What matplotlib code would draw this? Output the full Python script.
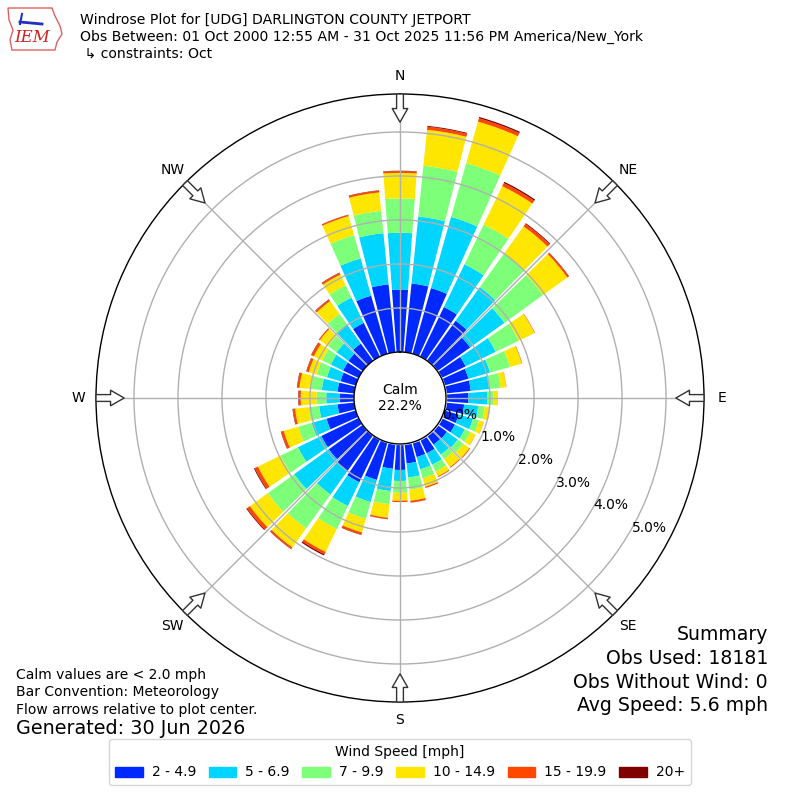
import numpy as np
import matplotlib
matplotlib.use('Agg')
import matplotlib.pyplot as plt
from matplotlib.patches import Patch, Polygon
from matplotlib.transforms import offset_copy

# Wind direction bins (deg, meteorological) ------------------------------------------------
directions = np.arange(0, 360, 10)

# Percent of obs per speed bin
spd_2_5 = [1.42, 1.57, 1.55, 1.25, 1.12, 0.92, 0.61, 0.57, 0.57, 0.51, 0.42, 0.34,
           0.34, 0.27, 0.26, 0.35, 0.35, 0.45, 0.59, 0.57, 0.89, 1.08, 1.00, 0.95,
           0.94, 0.69, 0.38, 0.32, 0.38, 0.36, 0.39, 0.40, 0.48, 0.85, 1.37, 1.55]
spd_5_7 = [1.29, 1.53, 1.68, 1.08, 0.94, 0.96, 0.76, 0.51, 0.42, 0.43, 0.32, 0.34,
           0.25, 0.30, 0.28, 0.29, 0.29, 0.32, 0.25, 0.51, 0.52, 0.60, 0.66, 0.97,
           0.59, 0.35, 0.42, 0.31, 0.36, 0.32, 0.31, 0.33, 0.54, 0.64, 0.88, 1.17]
spd_7_10 = [0.78, 1.16, 1.27, 1.00, 0.94, 1.08, 0.58, 0.47, 0.26, 0.14, 0.15, 0.14,
            0.14, 0.16, 0.13, 0.17, 0.21, 0.28, 0.27, 0.30, 0.40, 0.58, 0.95, 0.74,
            0.44, 0.32, 0.24, 0.22, 0.25, 0.24, 0.22, 0.24, 0.29, 0.31, 0.55, 0.51]
spd_10_15 = [0.58, 0.82, 0.98, 0.97, 0.76, 0.68, 0.40, 0.28, 0.13, 0.09, 0.12, 0.11,
             0.13, 0.17, 0.22, 0.12, 0.20, 0.25, 0.18, 0.31, 0.32, 0.58, 0.53, 0.50,
             0.57, 0.34, 0.31, 0.36, 0.26, 0.19, 0.21, 0.23, 0.36, 0.27, 0.45, 0.42]
spd_15_20 = [0.04, 0.07, 0.08, 0.08, 0.07, 0.04, 0.01, 0.01, 0.005, 0.005, 0.005, 0.005,
             0.005, 0.02, 0.02, 0.02, 0.03, 0.04, 0.03, 0.03, 0.05, 0.06, 0.04, 0.08,
             0.08, 0.06, 0.05, 0.05, 0.05, 0.05, 0.06, 0.03, 0.04, 0.04, 0.03, 0.04]
spd_20p = [0.01, 0.02, 0.03, 0.03, 0.02, 0.01, 0.0, 0.0, 0.0, 0.0, 0.0, 0.0,
           0.0, 0.0, 0.0, 0.0, 0.0, 0.005, 0.0, 0.005, 0.01, 0.03, 0.01, 0.02,
           0.02, 0.01, 0.01, 0.01, 0.01, 0.01, 0.01, 0.0, 0.01, 0.01, 0.005, 0.01]

bins = [spd_2_5, spd_5_7, spd_7_10, spd_10_15, spd_15_20, spd_20p]
bin_labels = ['2 - 4.9', '5 - 6.9', '7 - 9.9', '10 - 14.9', '15 - 19.9', '20+']
ring_pcts = [0, 1, 2, 3, 4, 5]
compass = ['N', 'NE', 'E', 'SE', 'S', 'SW', 'W', 'NW']
calm_pct = 22.2

colors = plt.cm.jet(np.linspace(0, 1, 7)[1:])

# geometry: 44 px per percent, calm hole of 46 px, outer circle at 304 px
CALM = 46 / 44.
RMAX = 304 / 44.

fig = plt.figure(figsize=(8, 8), dpi=100)
ax = fig.add_axes([0.12, 0.1225, 0.76, 0.76], projection='polar')
ax.set_theta_zero_location('N')
ax.set_theta_direction(-1)
ax.set_ylim(0, RMAX)

theta = np.deg2rad(directions)
width = np.deg2rad(10) * 0.85
base = np.zeros(len(directions))
for vals, col in zip(bins, colors):
    vals = np.array(vals)
    ax.bar(theta, vals, width=width, bottom=CALM + base, color=col,
           edgecolor='none', zorder=1)
    base = base + vals

# grid
ax.set_rgrids(CALM + np.array(ring_pcts[1:]), labels=[''] * 5)
ax.set_thetagrids(range(0, 360, 45), labels=[''] * 8)
ax.grid(True, color='#b0b0b0', lw=1)
ax.spines['polar'].set_color('black')
ax.spines['polar'].set_linewidth(1)

# calm circle
tt = np.linspace(0, 2 * np.pi, 300)
ax.fill_between(tt, 0, CALM, color='white', zorder=5)
ax.plot(tt, np.full_like(tt, CALM), color='black', lw=1, zorder=6)
ax.text(0, 0, 'Calm\n%.1f%%' % calm_pct, ha='center', va='center',
        fontsize=10, zorder=7)

# ring labels
lab_tr = offset_copy(ax.transData, fig=fig, x=20.5, y=6.6, units='dots')
for p in ring_pcts:
    ax.text(np.deg2rad(120.8), CALM + p, '%.1f%%' % p, transform=lab_tr,
            ha='center', va='center', fontsize=10, zorder=8)

# compass labels and inward flow arrows
for i, lab in enumerate(compass):
    th = np.deg2rad(i * 45)
    ax.text(th, 322 / 44., lab, ha='center', va='center', fontsize=10)
    ax.annotate('', xy=(th, RMAX - 0.64), xytext=(th, RMAX),
                arrowprops=dict(arrowstyle='simple,head_length=0.7,head_width=0.8,tail_width=0.35',
                                fc='white', ec='#333333', lw=1, shrinkA=0, shrinkB=0,
                                mutation_scale=14),
                annotation_clip=False, zorder=9)

# header
fig.text(80 / 800, 1 - 20 / 800, 'Windrose Plot for [UDG] DARLINGTON COUNTY JETPORT',
         va='center', fontsize=10.1)
fig.text(80 / 800, 1 - 37 / 800,
         'Obs Between: 01 Oct 2000 12:55 AM - 31 Oct 2025 11:56 PM America/New_York',
         va='center', fontsize=10.1)
fig.text(80 / 800, 1 - 54 / 800, ' \u21b3 constraints: Oct', va='center', fontsize=10.1)

# rough IEM logo
iowa = np.array([[8, 8], [52, 8], [55, 16], [60, 26], [62, 34], [57, 42], [55, 50],
                 [12, 50], [10, 40], [13, 30], [9, 20]])
fig.add_artist(Polygon(np.c_[iowa[:, 0] / 800, 1 - iowa[:, 1] / 800], closed=True,
                       fill=False, ec='#e06060', lw=1, transform=fig.transFigure))
fig.add_artist(plt.Line2D([20 / 800, 42 / 800], [1 - 22 / 800, 1 - 24 / 800],
                          color='#2030c0', lw=2, transform=fig.transFigure))
fig.add_artist(plt.Line2D([22 / 800, 20 / 800], [1 - 14 / 800, 1 - 24 / 800],
                          color='#2030c0', lw=1.5, transform=fig.transFigure))
fig.text(32 / 800, 1 - 38 / 800, 'IEM', color='#d02020', fontsize=12, style='italic',
         family='serif', ha='center', va='center')

# bottom left notes
fig.text(16 / 800, 1 - 675 / 800, 'Calm values are < 2.0 mph', va='center', fontsize=10)
fig.text(16 / 800, 1 - 692 / 800, 'Bar Convention: Meteorology', va='center', fontsize=10)
fig.text(16 / 800, 1 - 710 / 800, 'Flow arrows relative to plot center.', va='center',
         fontsize=10)
fig.text(16 / 800, 1 - 729 / 800, 'Generated: 30 Jun 2026', va='center', fontsize=13.8)

# summary
summary = ['Summary', 'Obs Used: 18181', 'Obs Without Wind: 0', 'Avg Speed: 5.6 mph']
for i, s in enumerate(summary):
    fig.text(768 / 800, 1 - (635 + 23.5 * i) / 800, s, ha='right', va='center',
             fontsize=13.6)

handles = [Patch(color=c, label=l) for c, l in zip(colors, bin_labels)]
fig.legend(handles=handles, loc='lower center', bbox_to_anchor=(0.5, 0.01), ncol=6,
           title='Wind Speed [mph]', fontsize=10, title_fontsize=10,
           handlelength=2.0, handleheight=0.7, handletextpad=0.65, columnspacing=0.9)

fig.savefig('out.png', dpi=100)
